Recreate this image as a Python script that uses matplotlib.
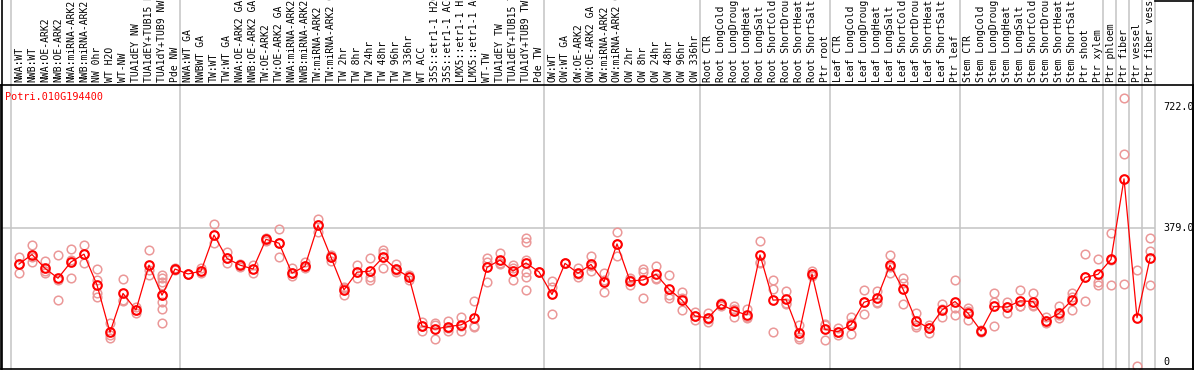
import matplotlib.pyplot as plt
import matplotlib.transforms as mtransforms
from matplotlib.lines import Line2D

gene = "Potri.010G194400"

samples = [
    "NWA:WT", "NWB:WT", "NWA:OE-ARK2", "NWB:OE-ARK2", "NWA:miRNA-ARK2", "NWB:miRNA-ARK2",
    "NW 0hr", "WT H2O", "WT-NW", "TUA1dEY NW", "TUA1dEY+TUB15 NW", "TUA1dY+TUB9 NW", "Pde NW",
    "NWA:WT GA", "NWBWT GA", "TW:WT", "TW:WT GA", "NWA:OE-ARK2 GA", "NWB:OE-ARK2 GA",
    "TW:OE-ARK2", "TW:OE-ARK2 GA", "NWA:miRNA-ARK2 GA", "NWB:miRNA-ARK2 GA", "TW:miRNA-ARK2",
    "TW:miRNA-ARK2 GA", "TW 2hr", "TW 8hr", "TW 24hr", "TW 48hr", "TW 96hr", "TW 336hr",
    "WT ACC", "35S::etr1-1 H2O", "35S::etr1-1 ACC", "LMX5::etr1-1 H2O", "LMX5::etr1-1 ACC",
    "WT-TW", "TUA1dEY TW", "TUA1dEY+TUB15 TW", "TUA1dY+TUB9 TW", "Pde TW",
    "OW:WT", "OW:WT GA", "OW:OE-ARK2", "OW:OE-ARK2 GA", "OW:miRNA-ARK2", "OW:miRNA-ARK2 GA",
    "OW 2hr", "OW 8hr", "OW 24hr", "OW 48hr", "OW 96hr", "OW 336hr",
    "Root CTR", "Root LongCold", "Root LongDrought", "Root LongHeat", "Root LongSalt",
    "Root ShortCold", "Root ShortDrought", "Root ShortHeat", "Root ShortSalt", "Ptr root",
    "Leaf CTR", "Leaf LongCold", "Leaf LongDrought", "Leaf LongHeat", "Leaf LongSalt",
    "Leaf ShortCold", "Leaf ShortDrought", "Leaf ShortHeat", "Leaf ShortSalt", "Ptr leaf",
    "Stem CTR", "Stem LongCold", "Stem LongDrought", "Stem LongHeat", "Stem LongSalt",
    "Stem ShortCold", "Stem ShortDrought", "Stem ShortHeat", "Stem ShortSalt",
    "Ptr shoot", "Ptr xylem", "Ptr phloem", "Ptr fiber", "Ptr vessel", "Ptr fiber vessel",
]

# first sample index of each group (separator lines)
group_starts = [0, 13, 41, 53, 63, 73, 84, 85, 86, 87, 88]

means = [
    277, 304, 265, 237, 283, 305, 218, 84, 194, 147, 274, 189, 263,
    249, 257, 359, 293, 274, 263, 347, 336, 251, 271, 387, 296, 204, 254, 257, 296, 263,
    240, 102, 93, 100, 105, 124, 268, 288, 257, 280, 255,
    191, 279, 251, 276, 227, 334, 229, 232, 248, 206, 175, 130,
    125, 163, 145, 133, 303, 175, 177, 81, 249, 92,
    86, 105, 169, 180, 274, 206, 117, 95, 147, 171,
    138, 88, 157, 155, 173, 171, 117, 138, 175, 239, 248,
    290, 518, 125, 293,
]

replicates = [
    [296, 277, 251], [331, 297, 284], [286, 257, 253], [303, 233, 175], [321, 288, 237],
    [331, 305, 279], [262, 232, 196, 183], [109, 76, 69], [234, 175, 173], [156, 147, 138],
    [317, 260, 246], [246, 237, 227, 218, 189, 171, 149, 109], [266, 260],
    [249, 248], [265, 251], [390, 359, 337], [312, 293, 279], [278, 270], [274, 251],
    [351, 343], [376, 336, 296], [265, 251, 244], [283, 271, 265], [404, 387, 369],
    [303, 296, 287], [213, 210, 189], [274, 254, 237], [293, 241, 232], [317, 307, 265],
    [276, 260, 254], [247, 240, 233], [114, 102, 88], [109, 105, 65], [117, 95, 88],
    [126, 101, 88], [172, 102, 98], [293, 284, 225], [307, 281, 276], [274, 265, 232],
    [350, 340, 288, 255, 241, 204], [255, 255],
    [229, 211, 135], [279, 279], [265, 248, 240], [300, 271, 257], [251, 231, 199],
    [367, 334, 300], [237, 232, 218], [262, 254, 180], [271, 237, 236], [246, 189, 180],
    [197, 181, 147], [142, 130, 119],
    [139, 122, 114], [168, 163, 158], [158, 150, 128], [149, 126, 124], [343, 284, 279],
    [232, 206, 84], [202, 166, 163], [105, 72, 64], [256, 249, 244], [107, 105, 62],
    [95, 86, 76], [126, 111, 78], [204, 169, 135], [202, 170, 168], [303, 268, 251],
    [237, 223, 164], [140, 105, 100], [105, 97, 83], [164, 150, 126], [232, 152, 133],
    [152, 143, 119], [90, 86], [194, 171, 103], [171, 156, 138], [204, 157, 158],
    [194, 162, 157], [126, 116, 109], [157, 133, 124], [194, 184, 147], [305, 241, 173],
    [290, 227, 218], [364, 288, 218], [746, 588, 221], [260, -10], [350, 315, 218],
]

ytick_vals = [722.0, 379.0, 0]
ytick_text = ["722.0", "379.0", "0"]

W, H = 1194, 370
mono = "DejaVu Sans Mono"
grey = "#c4c4c4"

fig = plt.figure(figsize=(W / 100, H / 100), dpi=100)
fig.patch.set_facecolor("white")

# plot area: x 1..1193 px, y 85..369 px (from top)
ax = fig.add_axes([1 / W, 1 / H, 1192 / W, 284 / H])
px_per_unit = 134 / 379.0
ax.set_xlim((1 - 19) / 13, (1193 - 19) / 13)
ax.set_ylim((362 - 369) / px_per_unit, (362 - 85) / px_per_unit)
ax.set_xticks([])
ax.set_yticks([])
for side in ["left", "bottom", "top", "right"]:
    ax.spines[side].set_linewidth(1.2)
    ax.spines[side].set_color("black")

label_h = 85 / 284
off = 8 / 13
for k in group_starts:
    ax.axvline(k - off, ymin=0, ymax=1 + label_h, color=grey, lw=1.1, clip_on=False, zorder=1)
ax.hlines(379, ax.get_xlim()[0], group_starts[-1] - off, color=grey, lw=1.1, zorder=1)

xs = list(range(len(samples)))

for i, reps in enumerate(replicates):
    ax.plot([i] * len(reps), reps, linestyle="none", marker="o", markersize=6.2,
            markerfacecolor="none", markeredgecolor="#eb9898", markeredgewidth=1.1, zorder=2)

ax.plot(xs, means, color="red", lw=0.9, zorder=3)
ax.plot(xs, means, linestyle="none", marker="o", markersize=6.2, markerfacecolor="none",
        markeredgecolor="red", markeredgewidth=1.5, zorder=4)

# sample labels above the plot
trans = mtransforms.blended_transform_factory(ax.transData, ax.transAxes)
for i, name in enumerate(samples):
    ax.text(i, 1 + 3 / 284, name, transform=trans, rotation=90, ha="center", va="bottom",
            family=mono, fontsize=7, clip_on=False)

ax.text(4 / 1192, (369 - 97) / 284, gene, transform=ax.transAxes, color="red",
        family=mono, fontsize=7.3, ha="left", va="center")

for v, t in zip(ytick_vals, ytick_text):
    ax.text(88.0, v, t, ha="left", va="center", family=mono, fontsize=7.3)

# outer borders extending into the label area
fig.add_artist(Line2D([1.5 / W, 1.5 / W], [1 / H, 1], color="black", lw=1.2))
fig.add_artist(Line2D([1192.5 / W, 1192.5 / W], [1 / H, 1], color="black", lw=1.2))
fig.add_artist(Line2D([1155 / W, 1], [1 - 0.5 / H, 1 - 0.5 / H], color="black", lw=1.2))

fig.savefig("out.png", dpi=100)
